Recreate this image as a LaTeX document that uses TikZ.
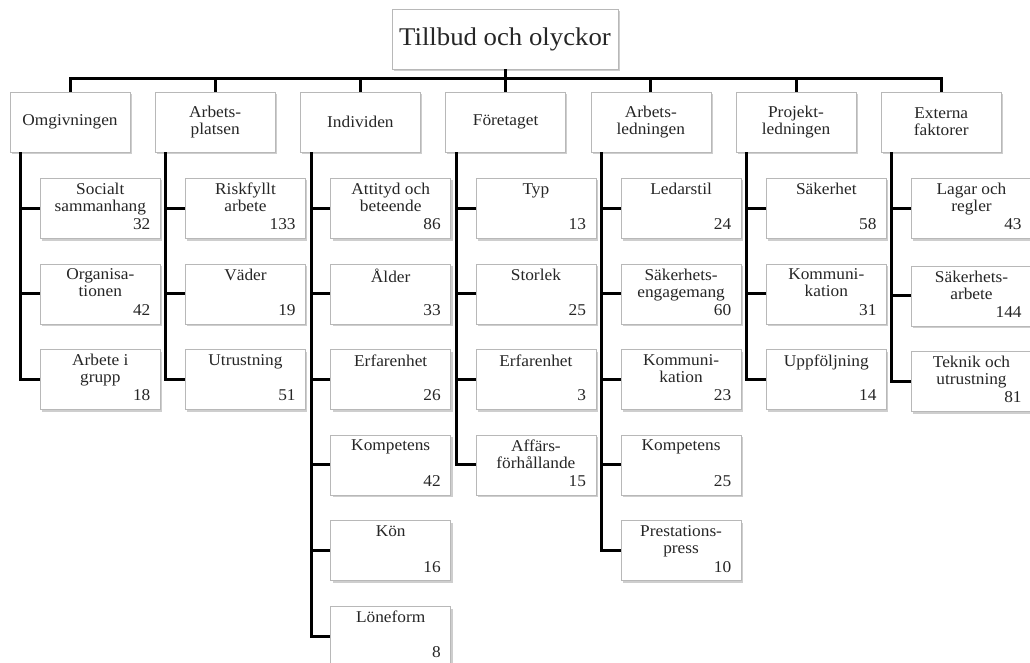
\documentclass[tikz,border=0pt]{standalone}
\usepackage{fontspec}
\setmainfont{Liberation Serif}[FakeStretch=1.05]
\usetikzlibrary{calc,shadows}
\tikzset{
  boxbase/.style={draw=black!28, fill=white, line width=0.6pt, inner sep=0pt,
    drop shadow={shadow xshift=1.8pt, shadow yshift=-2.2pt, fill=black!35, opacity=0.55}},
  rootbox/.style={boxbase, minimum width=226pt, minimum height=60pt,
    font=\fontsize{25.5}{28}\selectfont, text=black!85},
  topbox/.style={boxbase, minimum width=120pt, minimum height=60pt, align=center,
    font=\fontsize{16.5}{17}\selectfont, text=black!85},
  kid/.style={boxbase, minimum width=120pt, minimum height=60pt, anchor=north west},
  ktext/.style={anchor=north, align=center, inner sep=0pt,
    font=\fontsize{16.5}{17}\selectfont, text=black!85},
  knum/.style={anchor=base east, inner sep=0pt,
    font=\fontsize{16.5}{17}\selectfont, text=black!85},
  conn/.style={line width=3pt, black}
}
% #1 name, #2 parent, #3 x, #4 y, #5 text, #6 number
\newcommand\leaf[6]{%
  \draw[conn] ($(#2.south west)+(11,0)$) |- ($(#3,#4)+(0,30)$);
  \node[kid] (#1) at (#3,#4) {};
  \node[ktext] (#1-t) at ($(#1.north)+(0,5)$) {#5};
  \node[knum] (#1-n) at ($(#1.south east)+(-10,-9)$) {#6};
}
\begin{document}
\begin{tikzpicture}[x=1pt,y=-1pt]
\useasboundingbox (0,0) rectangle (1030,663);
\fill[white] (0,0) rectangle (1030,663);

\node[rootbox] (root) at (505,39) {Tillbud och olyckor};
\coordinate (busy) at (0,79);

\node[topbox] (p1) at (70,122) {Omgivningen};
\node[topbox] (p2) at (215.2,122) {Arbets-\\platsen};
\node[topbox] (p3) at (360.4,122) {Individen};
\node[topbox] (p4) at (505.6,122) {Företaget};
\node[topbox] (p5) at (650.8,122) {Arbets-\\ledningen};
\node[topbox] (p6) at (796,122) {Projekt-\\ledningen};
\node[topbox] (p7) at (941.2,122) {Externa\\faktorer};

\foreach \p in {p1,p2,p3,p4,p5,p6,p7}{
  \draw[conn] (\p.north) -- (\p.north |- busy) -| (root.south);
}

% column 1
\leaf{a1}{p1}{40}{178}{Socialt\\sammanhang}{32}
\leaf{a2}{p1}{40}{263.6}{Organisa-\\tionen}{42}
\leaf{a3}{p1}{40}{349.2}{Arbete i\\grupp}{18}
% column 2
\leaf{b1}{p2}{185.2}{178}{Riskfyllt\\arbete}{133}
\leaf{b2}{p2}{185.2}{263.6}{Väder}{19}
\leaf{b3}{p2}{185.2}{349.2}{Utrustning}{51}
% column 3
\leaf{c1}{p3}{330.4}{178}{Attityd och\\beteende}{86}
\leaf{c2}{p3}{330.4}{263.6}{Ålder}{33}
\leaf{c3}{p3}{330.4}{349.2}{Erfarenhet}{26}
\leaf{c4}{p3}{330.4}{434.8}{Kompetens}{42}
\leaf{c5}{p3}{330.4}{520.4}{Kön}{16}
\leaf{c6}{p3}{330.4}{606}{Löneform}{8}
% column 4
\leaf{d1}{p4}{475.6}{178}{Typ}{13}
\leaf{d2}{p4}{475.6}{263.6}{Storlek}{25}
\leaf{d3}{p4}{475.6}{349.2}{Erfarenhet}{3}
\leaf{d4}{p4}{475.6}{434.8}{Affärs-\\förhållande}{15}
% column 5
\leaf{e1}{p5}{620.8}{178}{Ledarstil}{24}
\leaf{e2}{p5}{620.8}{263.6}{Säkerhets-\\engagemang}{60}
\leaf{e3}{p5}{620.8}{349.2}{Kommuni-\\kation}{23}
\leaf{e4}{p5}{620.8}{434.8}{Kompetens}{25}
\leaf{e5}{p5}{620.8}{520.4}{Prestations-\\press}{10}
% column 6
\leaf{f1}{p6}{766}{178}{Säkerhet}{58}
\leaf{f2}{p6}{766}{263.6}{Kommuni-\\kation}{31}
\leaf{f3}{p6}{766}{349.2}{Uppföljning}{14}
% column 7
\leaf{g1}{p7}{911.2}{178}{Lagar och\\regler}{43}
\leaf{g2}{p7}{911.2}{265.6}{Säkerhets-\\arbete}{144}
\leaf{g3}{p7}{911.2}{351.2}{Teknik och\\utrustning}{81}
\end{tikzpicture}
\end{document}
